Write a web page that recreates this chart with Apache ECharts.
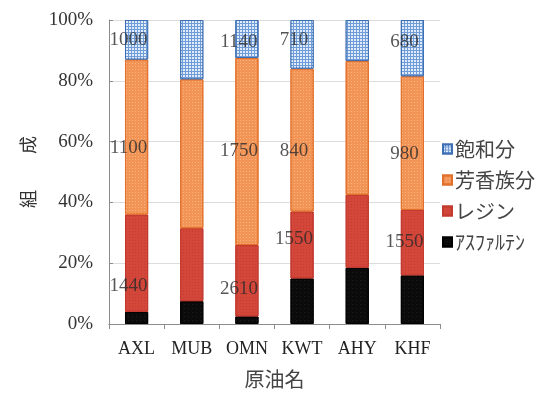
<!DOCTYPE html>
<html>
<head>
<meta charset="utf-8">
<script src="https://cdn.jsdelivr.net/npm/echarts@6/dist/echarts.min.js"></script>
<style>
  html, body { margin: 0; padding: 0; background: #fff; }
  #chart { width: 547px; height: 394px; }
</style>
</head>
<body>
<div id="chart"></div>
<script>
// Crude oils and their SARA composition (percent of total)
const crudes = ['AXL', 'MUB', 'OMN', 'KWT', 'AHY', 'KHF'];
const asphaltenes = [4, 7.5, 2.5, 15, 18.5, 16];
const resins      = [32, 24, 23.5, 22, 24, 21.5];
const aromatics   = [51, 49, 61.5, 47, 44, 44];
const saturates   = [13, 19.5, 12.5, 16, 13.5, 18.5];

const yTicks = [0, 20, 40, 60, 80, 100];

// Numeric notes written over the bars: [crude index, height in %, text]
const notes = [
  [0, 93.5, '1000'], [2, 92.8, '1140'], [3, 93.5, '710'], [5, 92.8, '680'],
  [0, 58, '1100'], [2, 57, '1750'], [3, 57, '840'], [5, 56, '980'],
  [3, 28, '1550'], [5, 27, '1550'],
  [0, 12.5, '1440'], [2, 11.5, '2610']
];

const serif = '"Liberation Serif", "Times New Roman", serif';
const cjk = '"Noto Sans CJK JP", "Noto Sans CJK SC", sans-serif';

function barSeries(name, data, color, border, decal) {
  return {
    name: name,
    type: 'bar',
    stack: 'sara',
    barWidth: '42%',
    data: data,
    itemStyle: { color: color, borderColor: border, borderWidth: 1, decal: decal }
  };
}

const chart = echarts.init(document.getElementById('chart'), null, { renderer: 'canvas' });

chart.setOption({
  animation: false,
  backgroundColor: '#ffffff',
  grid: { left: 109, right: 107, top: 20, bottom: 68 },
  legend: {
    orient: 'vertical',
    left: 437,
    top: 134,
    itemWidth: 9,
    itemHeight: 9,
    itemGap: 11,
    icon: 'rect',
    data: ['飽和分', '芳香族分', 'レジン', 'ｱｽﾌｧﾙﾃﾝ'],
    textStyle: { fontFamily: cjk, fontSize: 20, color: '#444', padding: [0, 0, 0, -2] }
  },
  xAxis: {
    type: 'category',
    data: crudes,
    name: '原油名',
    nameLocation: 'middle',
    nameGap: 45,
    nameTextStyle: { fontFamily: cjk, fontSize: 20, color: '#444' },
    axisLine: { lineStyle: { color: '#8c8c8c', width: 1 } },
    axisTick: { show: true, length: 5, lineStyle: { color: '#8c8c8c' } },
    axisLabel: { fontFamily: serif, fontSize: 18, color: '#222', margin: 16 }
  },
  yAxis: {
    type: 'value',
    min: 0,
    max: 100,
    interval: 20,
    name: '組　　成',
    nameLocation: 'middle',
    nameRotate: 90,
    nameGap: 72,
    nameTextStyle: { fontFamily: cjk, fontSize: 18, color: '#333' },
    axisLine: { show: true, lineStyle: { color: '#8c8c8c', width: 1 } },
    axisTick: { show: true, inside: true, length: 4, lineStyle: { color: '#8c8c8c' } },
    axisLabel: {
      fontFamily: serif, fontSize: 19, color: '#333', margin: 16,
      formatter: v => yTicks.includes(v) ? v + '%' : ''
    },
    splitLine: { lineStyle: { color: '#dcdcdc', width: 1 } }
  },
  series: [
    barSeries('ｱｽﾌｧﾙﾃﾝ', asphaltenes, '#0b0b0b', '#000000',
      { symbol: 'rect', symbolSize: 1, dashArrayX: [1, 3], dashArrayY: [1, 3], color: 'rgba(60,60,40,0.35)' }),
    barSeries('レジン', resins, '#d3463a', '#c23a30',
      { symbol: 'rect', symbolSize: 1, dashArrayX: [1, 2], dashArrayY: [1, 2], color: 'rgba(180,40,30,0.35)' }),
    barSeries('芳香族分', aromatics, '#f39457', '#e2702c',
      { symbol: 'rect', symbolSize: 1, dashArrayX: [1, 2], dashArrayY: [1, 2], color: 'rgba(255,205,160,0.55)' }),
    barSeries('飽和分', saturates, '#6f9bd6', '#3e6fb4',
      { symbol: 'rect', symbolSize: 1, dashArrayX: [2, 1], dashArrayY: [2, 1], color: 'rgba(230,240,252,0.95)' }),
    {
      name: 'notes',
      type: 'scatter',
      symbolSize: 0,
      z: 5,
      data: notes.map(n => ({ value: [n[0], n[1]], note: n[2] })),
      label: {
        show: true,
        position: 'inside',
        offset: [-8, 0],
        fontFamily: serif,
        fontSize: 19,
        color: '#2a2a2a',
        formatter: p => p.data.note
      },
      tooltip: { show: false }
    }
  ]
});
</script>
</body>
</html>
